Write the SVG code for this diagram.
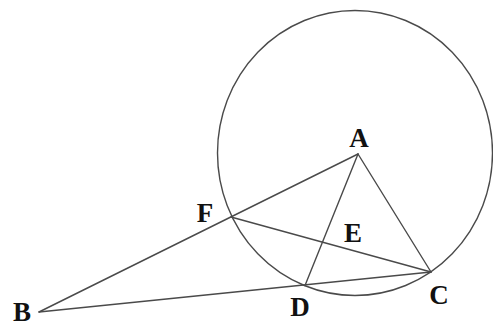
<svg xmlns="http://www.w3.org/2000/svg" width="493" height="327" viewBox="0 0 493 327">
<style>
.ln{stroke:#4a4a4a;stroke-width:1.4;fill:none;stroke-linecap:round}
.lb{font-family:"Liberation Serif","Times New Roman",serif;font-weight:bold;font-size:27px;fill:#111;text-anchor:middle}
</style>
<rect width="493" height="327" fill="#fff"/>
<g id="circle"><ellipse class="ln" cx="355" cy="153" rx="137.5" ry="142.5"/></g>
<g id="connectors">
<line class="ln" x1="39" y1="312" x2="358" y2="154"/>
<line class="ln" x1="39" y1="312" x2="431" y2="272"/>
<line class="ln" x1="231" y1="217" x2="431" y2="272"/>
<line class="ln" x1="358" y1="154" x2="305" y2="285.5"/>
<line class="ln" x1="358" y1="154" x2="431" y2="272"/>
</g>
<g id="A"><text class="lb" x="359" y="147">A</text></g>
<g id="B"><text class="lb" x="22" y="321">B</text></g>
<g id="C"><text class="lb" x="439" y="304">C</text></g>
<g id="D"><text class="lb" x="300" y="316">D</text></g>
<g id="E"><text class="lb" x="353" y="242">E</text></g>
<g id="F"><text class="lb" x="205" y="222">F</text></g>
</svg>
